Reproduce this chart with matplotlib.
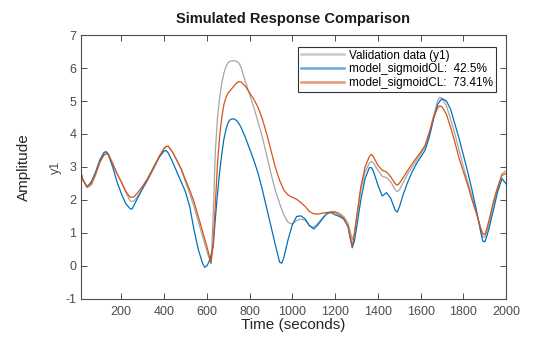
import numpy as np
import matplotlib
matplotlib.use("Agg")
import matplotlib.pyplot as plt

plt.rcParams['font.family'] = ['Liberation Sans', 'DejaVu Sans']
plt.rcParams['axes.unicode_minus'] = False

# Sample times (seconds); denser around peaks and sharp dips
time = [
    10, 20, 40, 60, 80, 100, 120, 130, 140, 160, 180, 200, 220, 240, 250,
    260, 280, 300, 320, 340, 360, 380, 400, 410, 420, 440, 460, 480, 500,
    520, 540, 560, 580, 590, 600, 610, 620, 630, 640, 650, 660, 670, 680,
    690, 700, 710, 720, 730, 740, 750, 760, 780, 800, 820, 840, 860, 880,
    900, 920, 940, 950, 960, 980, 1000, 1020, 1040, 1060, 1080, 1100, 1120,
    1140, 1160, 1180, 1200, 1220, 1240, 1260, 1270, 1280, 1290, 1300, 1320,
    1340, 1360, 1370, 1380, 1400, 1420, 1440, 1460, 1480, 1490, 1500, 1520,
    1540, 1560, 1580, 1600, 1620, 1640, 1660, 1680, 1690, 1700, 1720, 1740,
    1760, 1780, 1800, 1820, 1840, 1860, 1880, 1890, 1900, 1910, 1920, 1940,
    1960, 1980, 2000,
]

# Measured validation output
validation = [
    2.86, 2.62, 2.37, 2.45, 2.75, 3.15, 3.42, 3.46, 3.40, 3.10, 2.80, 2.55, 2.25, 1.98, 1.95,
    1.97, 2.15, 2.35, 2.55, 2.80, 3.05, 3.35, 3.58, 3.63, 3.62, 3.45, 3.20, 2.92, 2.55,
    2.20, 1.80, 1.35, 0.90, 0.68, 0.45, 0.25, 0.08, 1.60, 3.50, 4.50, 5.10, 5.55, 5.85,
    6.05, 6.17, 6.21, 6.22, 6.22, 6.20, 6.15, 6.02, 5.60, 5.20, 4.80, 4.35, 3.90, 3.35,
    2.80, 2.30, 1.90, 1.72, 1.55, 1.32, 1.27, 1.38, 1.42, 1.38, 1.22, 1.17, 1.30,
    1.45, 1.58, 1.65, 1.65, 1.60, 1.50, 1.30, 1.05, 0.80, 1.00, 1.45, 2.30,
    2.85, 3.12, 3.17, 3.12, 2.90, 2.72, 2.68, 2.55, 2.32, 2.25, 2.30, 2.55,
    2.80, 3.00, 3.20, 3.40, 3.60, 4.00, 4.55, 5.02, 5.11, 5.08, 4.85, 4.45,
    4.00, 3.50, 3.00, 2.55, 2.10, 1.65, 1.15, 0.88, 0.88, 1.05, 1.30, 1.85,
    2.35, 2.80, 2.88,
]

# Open-loop sigmoid model response
sigmoid_ol = [
    2.86, 2.62, 2.40, 2.55, 2.85, 3.22, 3.45, 3.46, 3.36, 3.00, 2.55, 2.20, 1.90, 1.74, 1.72,
    1.85, 2.10, 2.35, 2.60, 2.85, 3.10, 3.32, 3.48, 3.50, 3.42, 3.15, 2.85, 2.55, 2.25,
    1.80, 1.10, 0.50, 0.08, -0.04, 0.00, 0.12, 0.32, 0.60, 1.45, 2.20, 2.85, 3.40, 3.85,
    4.15, 4.35, 4.44, 4.46, 4.45, 4.40, 4.32, 4.20, 3.90, 3.55, 3.20, 2.80, 2.30, 1.75,
    1.20, 0.65, 0.12, 0.08, 0.25, 0.80, 1.25, 1.50, 1.52, 1.42, 1.22, 1.12, 1.25,
    1.42, 1.58, 1.62, 1.55, 1.50, 1.42, 1.20, 0.85, 0.55, 0.75, 1.15, 2.00,
    2.65, 2.98, 2.98, 2.85, 2.45, 2.12, 2.22, 2.05, 1.70, 1.63, 1.78, 2.20,
    2.55, 2.85, 3.10, 3.30, 3.50, 3.90, 4.45, 4.90, 5.00, 5.07, 5.00, 4.75,
    4.30, 3.85, 3.35, 2.85, 2.30, 1.70, 1.05, 0.76, 0.73, 0.92, 1.15, 1.70,
    2.25, 2.65, 2.48,
]

# Closed-loop sigmoid model response
sigmoid_cl = [
    2.86, 2.62, 2.40, 2.50, 2.80, 3.15, 3.37, 3.40, 3.37, 3.10, 2.80, 2.55, 2.28, 2.09, 2.08,
    2.10, 2.25, 2.42, 2.62, 2.85, 3.10, 3.35, 3.55, 3.62, 3.63, 3.45, 3.20, 2.95, 2.62,
    2.30, 1.95, 1.50, 1.05, 0.82, 0.60, 0.35, 0.08, 0.70, 1.90, 3.10, 3.95, 4.50, 4.90,
    5.12, 5.25, 5.32, 5.40, 5.48, 5.55, 5.59, 5.58, 5.45, 5.25, 5.05, 4.80, 4.45, 4.00,
    3.50, 3.00, 2.60, 2.45, 2.30, 2.15, 2.08, 2.02, 1.92, 1.80, 1.65, 1.58, 1.57,
    1.60, 1.62, 1.63, 1.62, 1.55, 1.45, 1.20, 0.90, 0.60, 0.95, 1.45, 2.40,
    3.00, 3.32, 3.38, 3.30, 3.05, 2.90, 2.85, 2.70, 2.50, 2.45, 2.50, 2.70,
    2.90, 3.10, 3.28, 3.45, 3.65, 4.05, 4.50, 4.80, 4.85, 4.82, 4.60, 4.20,
    3.75, 3.25, 2.85, 2.45, 2.00, 1.60, 1.15, 0.98, 0.95, 1.15, 1.40, 1.95,
    2.40, 2.75, 2.80,
]

labels = ["Validation data (y1)", "model_sigmoidOL:  42.5%", "model_sigmoidCL:  73.41%"]
x_ticks = [200, 400, 600, 800, 1000, 1200, 1400, 1600, 1800, 2000]
y_ticks = [-1, 0, 1, 2, 3, 4, 5, 6, 7]

axis_grey = "#4d4d4d"

fig = plt.figure(figsize=(5.6, 3.37), dpi=100)
ax = fig.add_axes([0.144, 0.113, 0.760, 0.783])

ax.plot(time, validation, color="#a6a6a6", lw=0.9, label=labels[0])
ax.plot(time, sigmoid_ol, color="#0072BD", lw=0.9, label=labels[1])
ax.plot(time, sigmoid_cl, color="#D95319", lw=0.9, label=labels[2])

ax.set_xlim(10, 2000)
ax.set_ylim(-1, 7)
ax.set_xticks(x_ticks)
ax.set_yticks(y_ticks)
ax.tick_params(direction="in", top=True, right=True, length=4, width=0.7,
               colors=axis_grey, labelsize=9)
ax.tick_params(axis="x", pad=5)
ax.tick_params(axis="y", pad=3)
for s in ax.spines.values():
    s.set_color(axis_grey)
    s.set_linewidth(0.8)

ax.set_title("Simulated Response Comparison", fontsize=10.5, fontweight="bold",
             color="#1a1a1a", pad=9)
ax.set_xlabel("Time (seconds)", fontsize=11, color="#262626", labelpad=0)
ax.set_ylabel("y1", fontsize=9, color=axis_grey, labelpad=2.5)
fig.text(0.042, 0.505, "Amplitude", rotation=90, fontsize=11, color="#262626",
         ha="center", va="center")

leg = ax.legend(loc="upper right", bbox_to_anchor=(0.977, 0.956), fontsize=8.5,
                frameon=True, fancybox=False, edgecolor="#000000",
                borderpad=0.25, labelspacing=0.15, handlelength=3.6,
                handletextpad=0.5, borderaxespad=0)
leg.get_frame().set_linewidth(0.8)
for line in leg.get_lines():
    line.set_linewidth(1.8)
    line.set_alpha(0.6)

fig.savefig("out.png", dpi=100)
